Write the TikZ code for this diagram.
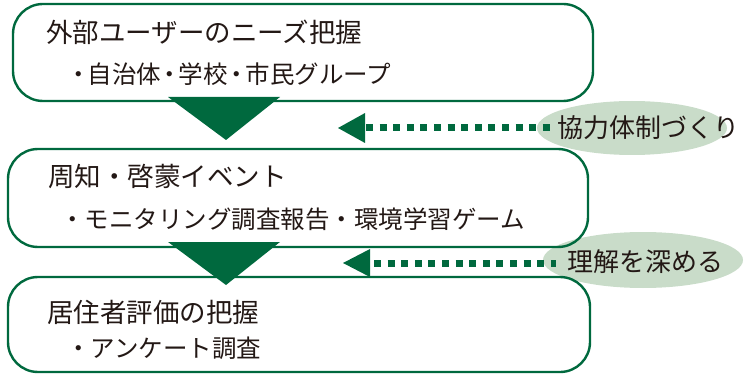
\documentclass[tikz,border=0pt]{standalone}
\usepackage{fontspec}
\setmainfont{Noto Sans CJK JP}
\definecolor{dgreen}{HTML}{00693E}
\definecolor{lgreen}{HTML}{C9DCC9}
\definecolor{txt}{HTML}{231815}
\newcommand{\ndot}{\makebox[0.72em]{・}}
\tikzset{
  stepbox/.style={draw=dgreen, line width=2.4pt, rounded corners=30pt},
  bubble/.style={ellipse, fill=lgreen, inner sep=0pt},
  ttl/.style={anchor=base west, inner sep=0pt, text=txt, font=\fontsize{26.5}{30}\selectfont},
  sub/.style={anchor=base west, inner sep=0pt, text=txt, font=\fontsize{24.5}{28}\selectfont},
  btxt/.style={anchor=base, inner sep=0pt, text=txt, font=\fontsize{26}{30}\selectfont},
  flow/.style={fill=dgreen},
  dotline/.style={draw=dgreen, line width=7pt, dash pattern=on 7pt off 6.6pt},
  head/.style={fill=dgreen}
}
\usetikzlibrary{shapes.geometric}
\begin{document}
\begin{tikzpicture}[x=1pt,y=-1pt]
\useasboundingbox (0,0) rectangle (752,374);
% bubbles
\node[bubble, minimum width=190pt, minimum height=54pt] (e1) at (632,128) {};
\node[bubble, minimum width=200pt, minimum height=56pt] (e2) at (643,260) {};
% boxes
\draw[stepbox] (13,4) rectangle (593,101);
\node[inner sep=0pt] (b1) at (303,52.5) {};
\draw[stepbox] (8,149) rectangle (588,247);
\node[inner sep=0pt] (b2) at (298,198) {};
\draw[stepbox] (8,277) rectangle (590,372);
\node[inner sep=0pt] (b3) at (299,324.5) {};
% flow triangles
\coordinate (t1a) at (168,97);
\coordinate (t1b) at (280,97);
\coordinate (t1c) at (226,140);
\fill[flow] (t1a) -- (t1b) -- (t1c) -- cycle;
\coordinate (t2a) at (168,242);
\coordinate (t2b) at (280,242);
\coordinate (t2c) at (226,285);
\fill[flow] (t2a) -- (t2b) -- (t2c) -- cycle;
% arrow 1
\coordinate (h1) at (338,128);
\coordinate (h1u) at (365,113);
\coordinate (h1d) at (365,143);
\coordinate (d1s) at (366,128);
\coordinate (d1e) at (553,128);
\fill[head] (h1u) -- (h1) -- (h1d) -- cycle;
\draw[dotline] (d1s) -- (d1e);
% arrow 2
\coordinate (h2) at (343,263);
\coordinate (h2u) at (370,249);
\coordinate (h2d) at (370,277);
\coordinate (d2s) at (374,263);
\coordinate (d2e) at (556,263);
\fill[head] (h2u) -- (h2) -- (h2d) -- cycle;
\draw[dotline] (d2s) -- (d2e);
% texts
\node[ttl] (t1) at (46,43) {外部ユーザーのニーズ把握};
\node[sub] (s1) at (70,84) {\ndot 自治体\ndot 学校\ndot 市民グループ};
\node[ttl] (t2) at (48,187) {周知・啓蒙イベント};
\node[sub] (s2) at (60,229) {・モニタリング調査報告・環境学習ゲーム};
\node[ttl] (t3) at (47,322) {居住者評価の把握};
\node[sub] (s3) at (66,357) {・アンケート調査};
\node[btxt] (l1) at (648,138) {協力体制づくり};
\node[btxt] (l2) at (645,271) {理解を深める};
\end{tikzpicture}
\end{document}
